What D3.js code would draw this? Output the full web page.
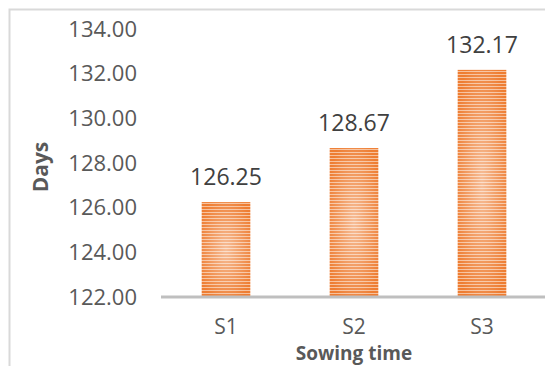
<!DOCTYPE html>
<html>
<head>
<meta charset="utf-8">
<script src="https://cdn.jsdelivr.net/npm/d3@7/dist/d3.min.js"></script>
<style>
  html, body { margin: 0; padding: 0; background: #fff; }
  svg { display: block; font-family: "Open Sans", sans-serif; }
</style>
</head>
<body>
<svg id="chart" width="545" height="366"></svg>
<script>
// Sowing time vs. days
const categories = ["S1", "S2", "S3"];
const days = [126.25, 128.67, 132.17];
const yTicks = [122, 124, 126, 128, 130, 132, 134];

const svg = d3.select("#chart");
const W = 545, H = 366;

// outer chart frame
svg.append("rect")
  .attr("x", 9.5).attr("y", 9.5)
  .attr("width", W + 20).attr("height", H + 20)
  .attr("fill", "#fff")
  .attr("stroke", "#d9d9d9").attr("stroke-width", 2);

const x = d3.scaleBand()
  .domain(categories)
  .range([162, 546])
  .paddingInner(0.62)
  .paddingOuter(0.31);

const y = d3.scaleLinear()
  .domain([122, 134])
  .range([297, 29]);

// striped orange fill with a soft highlight
const defs = svg.append("defs");
const pat = defs.append("pattern")
  .attr("id", "stripes")
  .attr("patternUnits", "userSpaceOnUse")
  .attr("width", 6).attr("height", 3);
pat.append("rect").attr("width", 6).attr("height", 3).attr("fill", "#ee7d32");
pat.append("rect").attr("y", 2).attr("width", 6).attr("height", 1).attr("fill", "#f7c19c");

const glow = defs.append("radialGradient")
  .attr("id", "glow")
  .attr("cx", "50%").attr("cy", "50%").attr("r", "60%");
glow.append("stop").attr("offset", "0%").attr("stop-color", "#fff").attr("stop-opacity", 0.5);
glow.append("stop").attr("offset", "100%").attr("stop-color", "#fff").attr("stop-opacity", 0);

// y axis tick labels
const yAxis = d3.axisLeft(y)
  .tickValues(yTicks)
  .tickFormat(d3.format(".2f"))
  .tickSize(0)
  .tickPadding(0);
const gy = svg.append("g")
  .attr("transform", "translate(137,0)")
  .call(yAxis);
gy.select(".domain").remove();
gy.selectAll("text")
  .attr("fill", "#595959")
  .style("font-size", "22px")
  .style("font-family", "'Open Sans', sans-serif");

// bars
const bars = svg.append("g");
bars.selectAll("rect.bar")
  .data(days)
  .join("rect")
  .attr("class", "bar")
  .attr("x", (d, i) => x(categories[i]))
  .attr("y", d => y(d))
  .attr("width", x.bandwidth())
  .attr("height", d => y(122) - y(d))
  .attr("fill", "url(#stripes)");
bars.selectAll("rect.glow")
  .data(days)
  .join("rect")
  .attr("class", "glow")
  .attr("x", (d, i) => x(categories[i]))
  .attr("y", d => y(d))
  .attr("width", x.bandwidth())
  .attr("height", d => y(122) - y(d))
  .attr("fill", "url(#glow)");

// value labels
svg.append("g").selectAll("text")
  .data(days)
  .join("text")
  .attr("x", (d, i) => x(categories[i]) + x.bandwidth() / 2)
  .attr("y", d => y(d) - 17)
  .attr("text-anchor", "middle")
  .attr("fill", "#404040")
  .style("font-size", "23px")
  .text(d => d3.format(".2f")(d));

// x axis
const xAxis = d3.axisBottom(x).tickSize(0).tickPadding(0);
const gx = svg.append("g")
  .attr("transform", `translate(0,${y(122)})`)
  .call(xAxis);
gx.select(".domain")
  .attr("d", "M161,0H546")
  .attr("stroke", "#bfbfbf")
  .attr("stroke-width", 3);
gx.selectAll("text")
  .attr("fill", "#595959")
  .attr("dy", null)
  .attr("y", 37)
  .style("font-size", "21px")
  .style("font-family", "'Open Sans', sans-serif");

// axis titles
svg.append("text")
  .attr("x", 354).attr("y", 360)
  .attr("text-anchor", "middle")
  .attr("fill", "#595959")
  .style("font-size", "19px")
  .style("font-weight", "bold")
  .text("Sowing time");

svg.append("text")
  .attr("transform", "translate(48,167) rotate(-90)")
  .attr("text-anchor", "middle")
  .attr("fill", "#595959")
  .style("font-size", "21px")
  .style("font-weight", "bold")
  .text("Days");
</script>
</body>
</html>
